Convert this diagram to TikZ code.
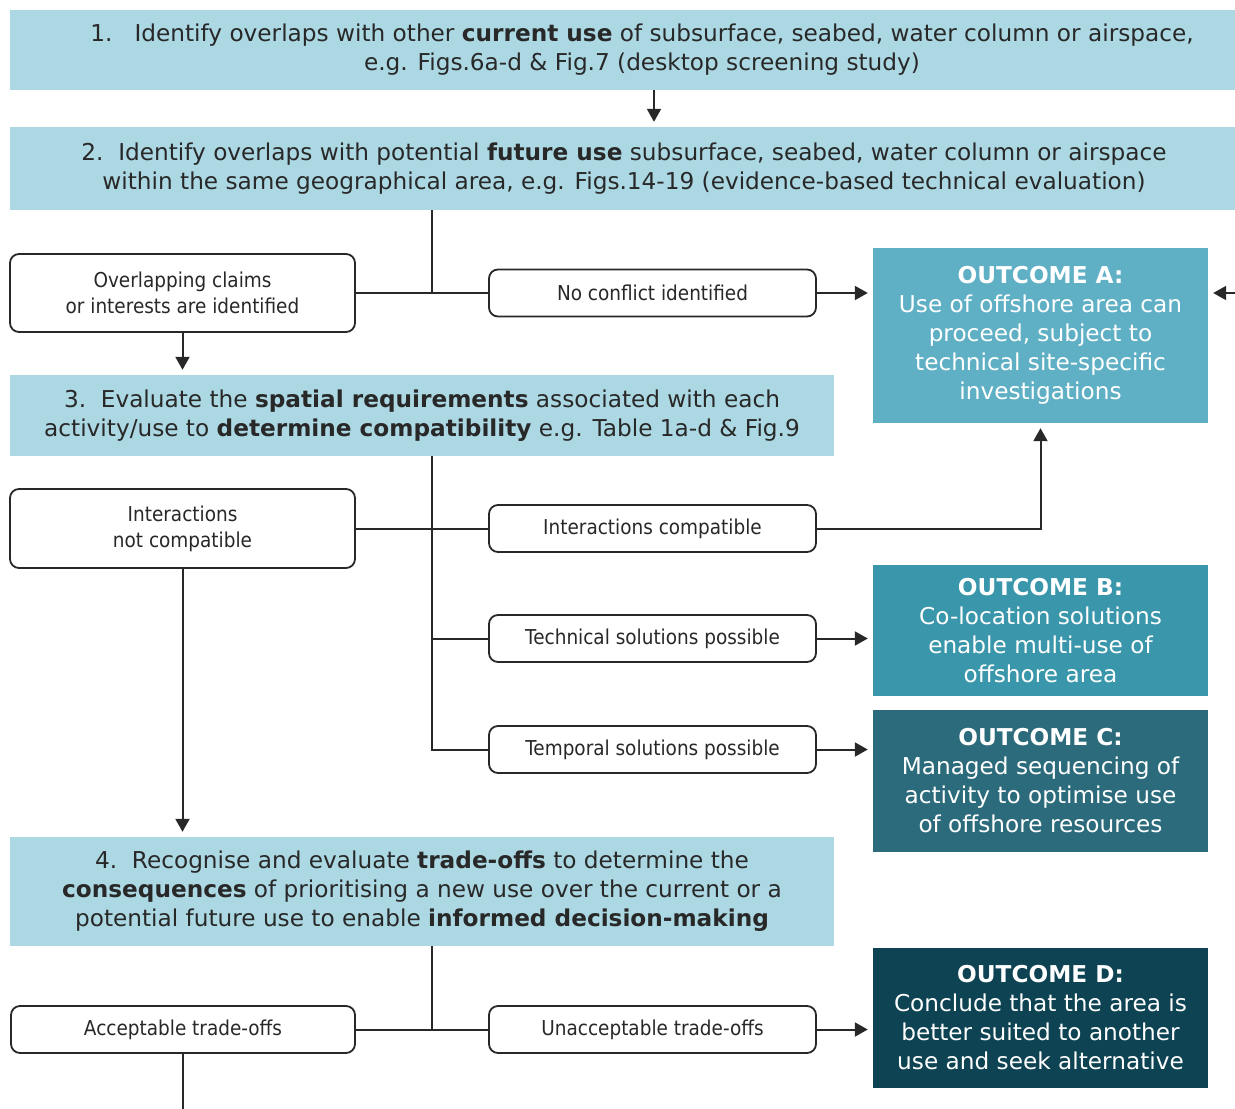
\documentclass[tikz,border=0pt]{standalone}
\usepackage{fontspec}
\setmainfont{DejaVu Sans}
\newfontfamily\narrowfont{DejaVu Sans}[FakeStretch=0.9]
\usetikzlibrary{arrows.meta}
\definecolor{stepblue}{RGB}{172,216,227}
\definecolor{outA}{RGB}{96,176,197}
\definecolor{outB}{RGB}{58,150,170}
\definecolor{outC}{RGB}{44,107,123}
\definecolor{outD}{RGB}{13,67,82}
\definecolor{ink}{RGB}{40,40,40}
\begin{document}
\begin{tikzpicture}[x=1pt,y=1pt]
\tikzstyle{every node}+=[inner sep=0pt]
\tikzstyle{stepbox}=[fill=stepblue, align=center, text=ink, font=\fontsize{23.2}{29}\selectfont]
\tikzstyle{choice}=[draw=ink, line width=1.8pt, rounded corners=9pt, fill=white, minimum width=327pt, minimum height=47pt, align=center, text=ink, font=\narrowfont\fontsize{20.5}{26}\selectfont]
\tikzstyle{outcome}=[minimum width=335pt, align=center, text=white, font=\fontsize{23.2}{29}\selectfont]
\tikzstyle{link}=[draw=ink, line width=2pt]
\tikzstyle{arr}=[link, -{Triangle[length=13pt,width=14pt]}, shorten >=5pt]
\path [use as bounding box, fill=white] (0,0) rectangle (1235,-1109);
\node [stepbox, minimum width=1264pt, minimum height=80pt] (step1) at (642,-50) {1.\ \ \ Identify overlaps with other \textbf{current use} of subsurface, seabed, water column or airspace,\\e.g. Figs.6a-d \& Fig.7 (desktop screening study)};
\node [stepbox, minimum width=1228pt, minimum height=83pt] (step2) at (624,-168.5) {2.\ \ Identify overlaps with potential \textbf{future use} subsurface, seabed, water column or airspace\\within the same geographical area, e.g. Figs.14-19 (evidence-based technical evaluation)};
\node [stepbox, minimum width=824pt, minimum height=81pt] (step3) at (422,-415.5) {3.\ \ Evaluate the \textbf{spatial requirements} associated with each\\activity/use to \textbf{determine compatibility} e.g. Table 1a-d \& Fig.9};
\node [stepbox, minimum width=824pt, minimum height=109pt] (step4) at (422,-891.5) {4.\ \ Recognise and evaluate \textbf{trade-offs} to determine the\\\textbf{consequences} of prioritising a new use over the current or a\\potential future use to enable \textbf{informed decision-making}};
\node [choice, minimum width=345pt, minimum height=78pt] (claims) at (182.5,-293) {Overlapping claims\\or interests are identified};
\node [choice] (nocon) at (652.5,-293) {No conflict identified};
\node [choice, minimum width=345pt, minimum height=79pt] (incomp) at (182.5,-528.5) {Interactions\\not compatible};
\node [choice] (comp) at (652.5,-528.5) {Interactions compatible};
\node [choice] (tech) at (652.5,-638.5) {Technical solutions possible};
\node [choice] (temp) at (652.5,-749.5) {Temporal solutions possible};
\node [choice, minimum width=344pt] (accept) at (183,-1029.5) {Acceptable trade-offs};
\node [choice] (unacc) at (652.5,-1029.5) {Unacceptable trade-offs};
\node [outcome, fill=outA, minimum height=175pt] (outA) at (1040.5,-335.5) {\textbf{OUTCOME A:}\\Use of offshore area can\\proceed, subject to\\technical site-specific\\investigations};
\node [outcome, fill=outB, minimum height=131pt] (outB) at (1040.5,-630.5) {\textbf{OUTCOME B:}\\Co-location solutions\\enable multi-use of\\offshore area};
\node [outcome, fill=outC, minimum height=142pt] (outC) at (1040.5,-781) {\textbf{OUTCOME C:}\\Managed sequencing of\\activity to optimise use\\of offshore resources};
\node [outcome, fill=outD, minimum height=140pt] (outD) at (1040.5,-1018) {\textbf{OUTCOME D:}\\Conclude that the area is\\better suited to another\\use and seek alternative};
\coordinate (a12) at (654,-92);
\coordinate (j2) at (432,-293);
\coordinate (j3) at (432,-528.5);
\coordinate (j4) at (432,-1029.5);
\coordinate (inA) at (1270,-293);
\coordinate (down) at (182,-1130);
\draw [arr] (a12 |- step1.south) -- (a12 |- step2.north);
\draw [link] (j2 |- step2.south) -- (j2);
\draw [link] (claims.east) -- (nocon.west);
\draw [arr] (nocon.east) -- (nocon.east -| outA.west);
\draw [arr] (inA) -- (inA -| outA.east);
\draw [arr] (claims.south) -- (claims.south |- step3.north);
\draw [link] (j3 |- step3.south) -- (j3 |- temp.west) -- (temp.west);
\draw [link] (j3 |- tech.west) -- (tech.west);
\draw [link] (incomp.east) -- (comp.west);
\draw [arr] (comp.east) -| (outA.south);
\draw [arr] (tech.east) -- (tech.east -| outB.west);
\draw [arr] (temp.east) -- (temp.east -| outC.west);
\draw [arr] (incomp.south) -- (incomp.south |- step4.north);
\draw [link] (j4 |- step4.south) -- (j4);
\draw [link] (accept.east) -- (unacc.west);
\draw [arr] (unacc.east) -- (unacc.east -| outD.west);
\draw [link] (accept.south) -- (accept.south |- down);
\end{tikzpicture}
\end{document}
